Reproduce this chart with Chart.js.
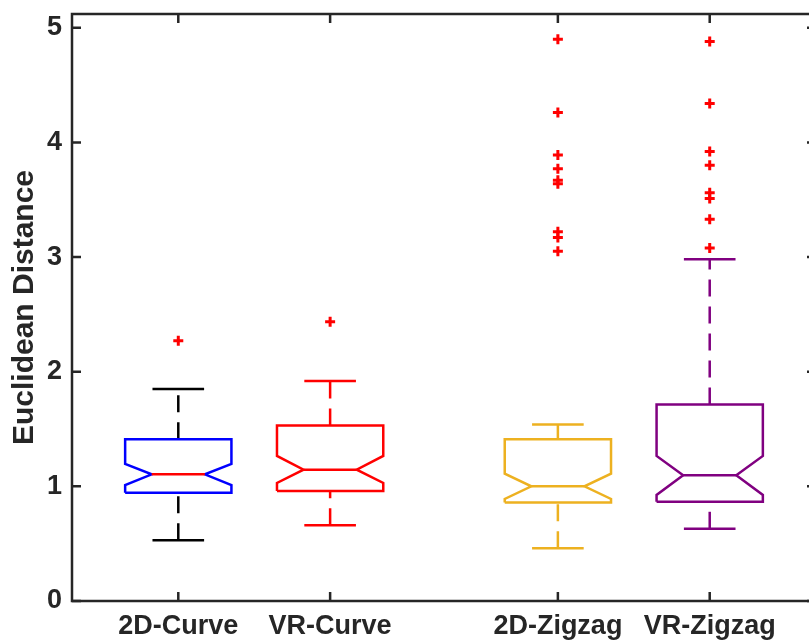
<!DOCTYPE html>
<html>
<head>
<meta charset="utf-8">
<script src="https://cdn.jsdelivr.net/npm/chart.js@4.4.1/dist/chart.umd.min.js"></script>
<style>
html, body { margin: 0; padding: 0; overflow: hidden; background: #fff; }
#wrap { width: 830px; height: 640px; }
</style>
</head>
<body>
<div id="wrap"><canvas id="boxChart" width="830" height="640"></canvas></div>
<script>
// Values
const categories = ['2D-Curve', 'VR-Curve', '2D-Zigzag', 'VR-Zigzag'];
const positions = [1, 2, 3.5, 4.5];
const whiskerLow = [0.53, 0.66, 0.46, 0.63];
const q1 = [0.945, 0.96, 0.86, 0.865];
const notchLow = [1.01, 1.03, 0.89, 0.925];
const medians = [1.105, 1.145, 1.0, 1.097];
const notchHigh = [1.195, 1.265, 1.11, 1.265];
const q3 = [1.41, 1.53, 1.41, 1.715];
const whiskerHigh = [1.85, 1.92, 1.54, 2.98];
const outliers = [
    [2.27],
    [2.435],
    [4.90, 4.26, 3.89, 3.77, 3.67, 3.64, 3.22, 3.17, 3.05],
    [4.88, 4.34, 3.92, 3.80, 3.56, 3.51, 3.33, 3.08]
];
const yTicks = [0, 1, 2, 3, 4, 5];

// Styles
const boxColors = ['#0000ff', '#ff0000', '#edb120', '#800080'];
const whiskerColors = ['#000000', '#ff0000', '#edb120', '#800080'];
const medianColors = ['#ff0000', '#ff0000', '#edb120', '#800080'];
const axisColor = '#262626';
const boxHalf = 0.35;
const notchHalf = 0.175;
const capHalf = 0.17;
const lineW = 2.5;
const tickLen = 9;

function lineSet(points, color, dash) {
    return {
        data: points,
        showLine: true,
        borderColor: color,
        borderWidth: lineW,
        borderDash: dash || [],
        borderJoinStyle: 'miter',
        pointRadius: 0,
        tension: 0,
        fill: false
    };
}

const datasets = [];

// outliers first so they sit on top
datasets.push({
    data: outliers.flatMap((vals, i) => vals.map(v => ({ x: positions[i], y: v }))),
    pointStyle: 'cross',
    pointRadius: 5,
    pointBorderWidth: 3,
    borderColor: '#ff0000',
    backgroundColor: '#ff0000',
    showLine: false
});

positions.forEach((x, i) => {
    // median
    datasets.push(lineSet([
        { x: x - notchHalf, y: medians[i] },
        { x: x + notchHalf, y: medians[i] }
    ], medianColors[i]));

    // notched box
    datasets.push(lineSet([
        { x: x - boxHalf, y: q1[i] },
        { x: x + boxHalf, y: q1[i] },
        { x: x + boxHalf, y: notchLow[i] },
        { x: x + notchHalf, y: medians[i] },
        { x: x + boxHalf, y: notchHigh[i] },
        { x: x + boxHalf, y: q3[i] },
        { x: x - boxHalf, y: q3[i] },
        { x: x - boxHalf, y: notchHigh[i] },
        { x: x - notchHalf, y: medians[i] },
        { x: x - boxHalf, y: notchLow[i] },
        { x: x - boxHalf, y: q1[i] }
    ], boxColors[i]));

    // whiskers (dashed), drawn bottom to top
    datasets.push(lineSet([
        { x: x, y: whiskerLow[i] },
        { x: x, y: q1[i] }
    ], whiskerColors[i], [17, 10]));
    datasets.push(lineSet([
        { x: x, y: q3[i] },
        { x: x, y: whiskerHigh[i] }
    ], whiskerColors[i], [17, 10]));

    // caps
    datasets.push(lineSet([
        { x: x - capHalf, y: whiskerLow[i] },
        { x: x + capHalf, y: whiskerLow[i] }
    ], whiskerColors[i]));
    datasets.push(lineSet([
        { x: x - capHalf, y: whiskerHigh[i] },
        { x: x + capHalf, y: whiskerHigh[i] }
    ], whiskerColors[i]));
});

// Box frame with inward ticks on all four sides
const framePlugin = {
    id: 'frame',
    afterDraw(chart) {
        const { ctx, chartArea: a, scales: { x, y } } = chart;
        ctx.save();
        ctx.strokeStyle = axisColor;
        ctx.lineWidth = lineW;
        ctx.lineCap = 'butt';
        ctx.strokeRect(a.left, a.top, a.right - a.left, a.bottom - a.top);
        ctx.beginPath();
        yTicks.forEach(v => {
            const py = y.getPixelForValue(v);
            ctx.moveTo(a.left, py);
            ctx.lineTo(a.left + tickLen, py);
            ctx.moveTo(a.right, py);
            ctx.lineTo(a.right - tickLen, py);
        });
        positions.forEach(v => {
            const px = x.getPixelForValue(v);
            ctx.moveTo(px, a.bottom);
            ctx.lineTo(px, a.bottom - tickLen);
            ctx.moveTo(px, a.top);
            ctx.lineTo(px, a.top + tickLen);
        });
        ctx.stroke();
        ctx.restore();
    }
};

Chart.defaults.font.family = '"Liberation Sans", Arial, Helvetica, sans-serif';
Chart.defaults.color = axisColor;

const chart = new Chart(document.getElementById('boxChart'), {
    type: 'scatter',
    data: { datasets },
    options: {
        responsive: false,
        animation: false,
        layout: { padding: { top: 14, right: 14, left: 0, bottom: 0 } },
        plugins: {
            legend: { display: false },
            tooltip: { enabled: false }
        },
        scales: {
            x: {
                type: 'linear',
                min: 0.3,
                max: 5.2,
                grid: { display: false, drawTicks: false },
                border: { display: false },
                afterBuildTicks: scale => {
                    scale.ticks = positions.map(v => ({ value: v }));
                },
                afterFit: scale => {
                    scale.height = 39;
                    scale.paddingLeft = 0;
                    scale.paddingRight = 0;
                },
                ticks: {
                    autoSkip: false,
                    maxRotation: 0,
                    padding: 9,
                    color: axisColor,
                    font: { size: 27, weight: 'bold' },
                    callback: value => categories[positions.indexOf(value)]
                }
            },
            y: {
                min: 0,
                max: 5.12,
                grid: { display: false, drawTicks: false },
                border: { display: false },
                afterBuildTicks: scale => {
                    scale.ticks = yTicks.map(v => ({ value: v }));
                },
                afterFit: scale => {
                    scale.width = 72;
                    scale.paddingTop = 0;
                    scale.paddingBottom = 0;
                },
                ticks: {
                    padding: 10,
                    color: axisColor,
                    font: { size: 27, weight: 'bold' }
                },
                title: {
                    display: true,
                    text: 'Euclidean Distance',
                    color: axisColor,
                    padding: { top: 7, bottom: 0 },
                    font: { size: 30, weight: 'bold' }
                }
            }
        }
    },
    plugins: [framePlugin]
});
</script>
</body>
</html>
